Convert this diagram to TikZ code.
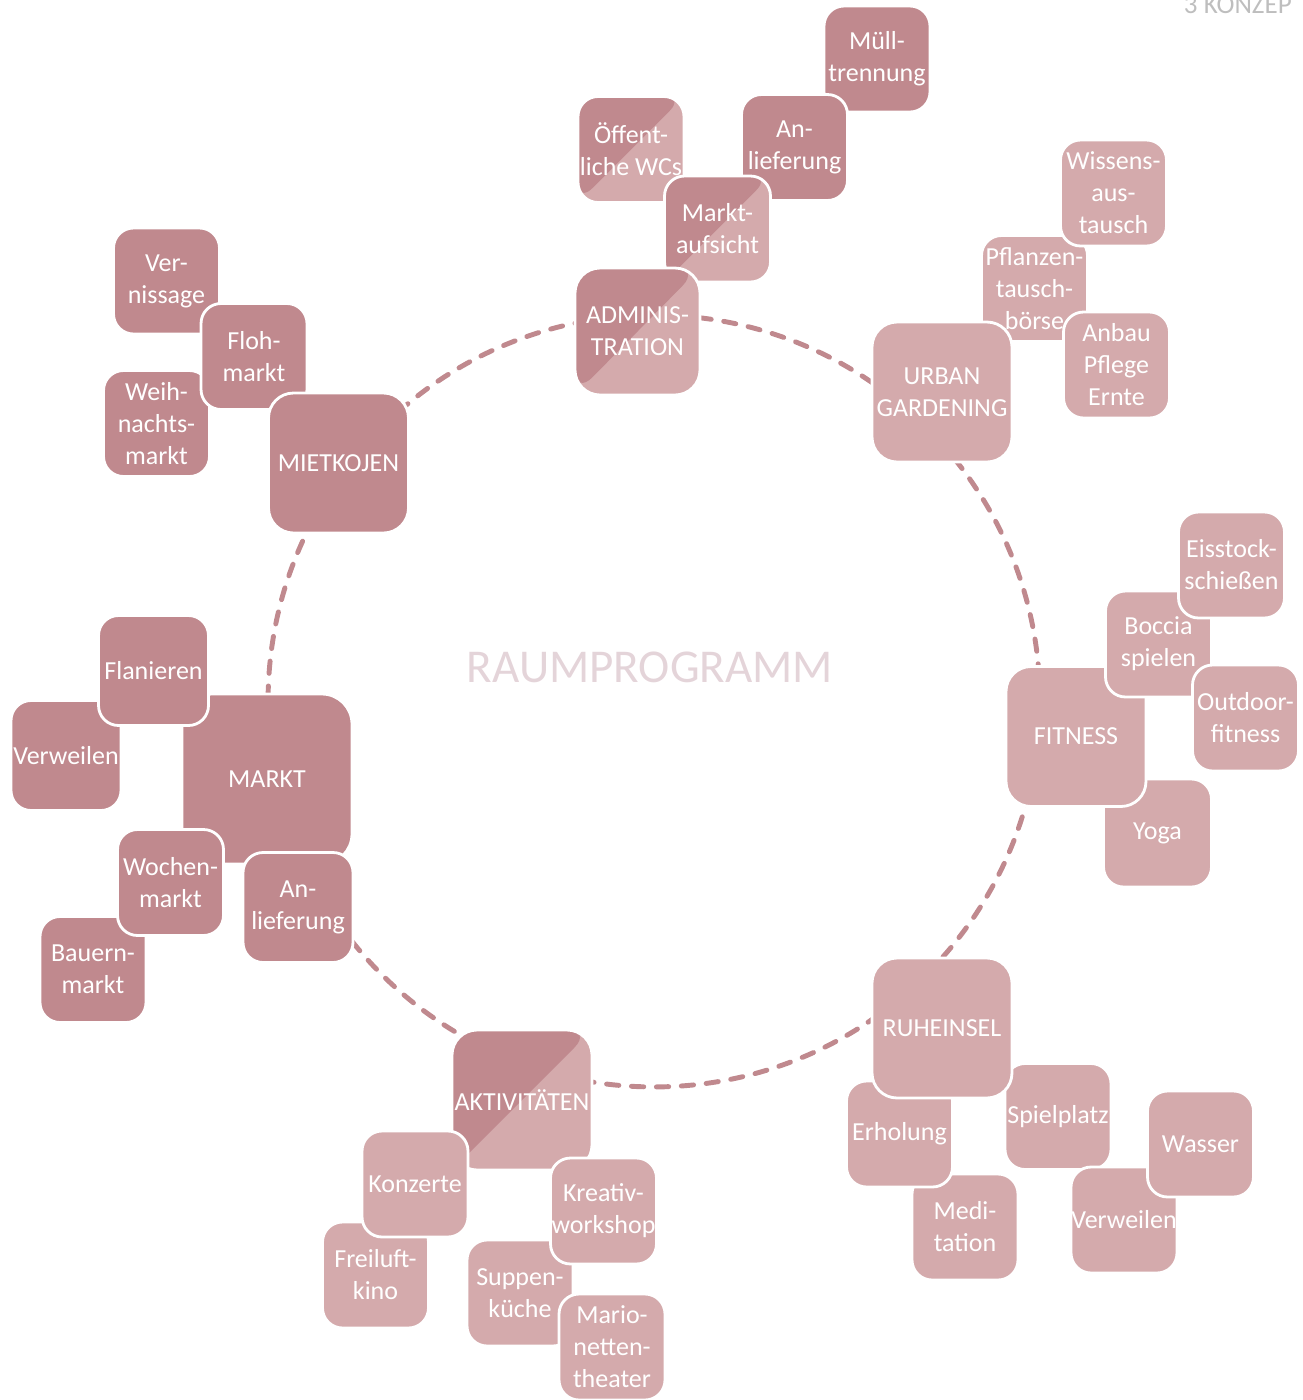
\documentclass[tikz,border=0pt]{standalone}
\usepackage{fontspec}
\setmainfont{Carlito}

\definecolor{darkrose}{RGB}{192,137,142}
\definecolor{lightrose}{RGB}{212,170,172}
\definecolor{titlerose}{RGB}{228,212,217}
\definecolor{headgray}{RGB}{190,190,190}

\tikzset{
	feld/.style = {draw = white, line width = 1.6pt, text = white, align = center, inner sep = 0pt,
		font = \fontsize{14.8}{18.2}\selectfont, minimum size = 2.12cm, rounded corners = 0.4cm},
	gross/.style = {minimum size = 2.8cm, rounded corners = 0.5cm},
	dunkel/.style = {feld, fill = darkrose},
	hell/.style = {feld, fill = lightrose},
	geteilt/.style = {feld, fill = lightrose,
		path picture = {\fill[darkrose] (path picture bounding box.north west) -- (path picture bounding box.north east) -- (path picture bounding box.south west) -- cycle;}},
}

\begin{document}
\begin{tikzpicture}[x = 0.02cm, y = -0.02cm]
	\useasboundingbox (0,0) rectangle (1302,1400);
	\clip (0,0) rectangle (1302,1400);
	
	\node[anchor = base east, text = headgray, font = \fontsize{15.4}{18}\selectfont] (kapitel) at (1298,13) {3 KONZEP};
	
	\coordinate (mitte) at (654,701);
	\draw[darkrose, line width = 2.8pt, dash pattern = on 7pt off 7.2pt, line cap = round] (mitte) circle [radius = 7.72cm];
	\node[text = titlerose, font = \fontsize{26.8}{30}\selectfont] (titel) at (650,667) {RAUMPROGRAMM};
	
	% Markt
	\node[dunkel, minimum size = 3.4cm, rounded corners = 0.6cm] (markt) at (267,779) {MARKT};
	\node[dunkel, minimum size = 2.2cm] (verweilenL) at (66,755.5) {Verweilen};
	\node[dunkel, minimum size = 2.2cm] (flanieren) at (153.5,670.5) {Flanieren};
	\node[dunkel] (bauern) at (93,969.5) {Bauern-\\markt};
	\node[dunkel] (wochen) at (170.5,882.5) {Wochen-\\markt};
	\node[dunkel, minimum size = 2.2cm] (lieferungM) at (298,907.5) {An-\\lieferung};
	
	% Mietkojen
	\node[dunkel] (vernissage) at (166.5,281) {Ver-\\nissage};
	\node[dunkel] (weihnacht) at (156.5,423.5) {Weih-\\nachts-\\markt};
	\node[dunkel] (floh) at (254,356.5) {Floh-\\markt};
	\node[dunkel, gross] (miet) at (338.5,463) {MIETKOJEN};
	
	% Administration
	\node[dunkel] (muell) at (877,59) {Müll-\\trennung};
	\node[dunkel] (lieferungA) at (794.5,147.5) {An-\\lieferung};
	\node[geteilt] (wc) at (631,149.5) {Öffent-\\liche WCs};
	\node[geteilt] (aufsicht) at (717.5,229) {Markt-\\aufsicht};
	\node[geteilt, minimum width = 2.5cm, minimum height = 2.54cm, rounded corners = 0.5cm] (admin) at (637.5,331.5) {ADMINIS-\\TRATION};
	
	% Urban Gardening
	\node[hell] (pflanzen) at (1034.5,288.5) {Pflanzen-\\tausch-\\börse};
	\node[hell] (wissen) at (1113.5,193) {Wissens-\\aus-\\tausch};
	\node[hell] (anbau) at (1116.5,365) {Anbau\\Pflege\\Ernte};
	\node[hell, gross] (urban) at (942,392) {URBAN\\GARDENING};
	
	% Fitness
	\node[hell, minimum size = 2.16cm] (yoga) at (1157.5,833) {Yoga};
	\node[hell, gross] (fitness) at (1076,736.5) {FITNESS};
	\node[hell] (boccia) at (1158.5,644) {Boccia\\spielen};
	\node[hell] (eisstock) at (1231.5,565) {Eisstock-\\schießen};
	\node[hell] (outdoor) at (1245.5,718) {Outdoor-\\fitness};
	
	% Ruheinsel
	\node[hell] (meditation) at (965,1227) {Medi-\\tation};
	\node[hell] (erholung) at (899.5,1134) {Erholung};
	\node[hell] (spielplatz) at (1058,1116.5) {Spielplatz};
	\node[hell] (verweilenR) at (1124,1220) {Verweilen};
	\node[hell] (wasser) at (1200.5,1144) {Wasser};
	\node[hell, gross] (ruhe) at (942,1028) {RUHEINSEL};
	
	% Aktivitaeten
	\node[geteilt, gross] (aktiv) at (522,1100) {AKTIVITÄTEN};
	\node[hell] (kino) at (375.5,1275) {Freiluft-\\kino};
	\node[hell] (konzerte) at (415,1184) {Konzerte};
	\node[hell] (suppe) at (520,1293) {Suppen-\\küche};
	\node[hell] (kreativ) at (603.5,1211) {Kreativ-\\workshop};
	\node[hell] (marionette) at (612,1347) {Mario-\\netten-\\theater};
\end{tikzpicture}
\end{document}
